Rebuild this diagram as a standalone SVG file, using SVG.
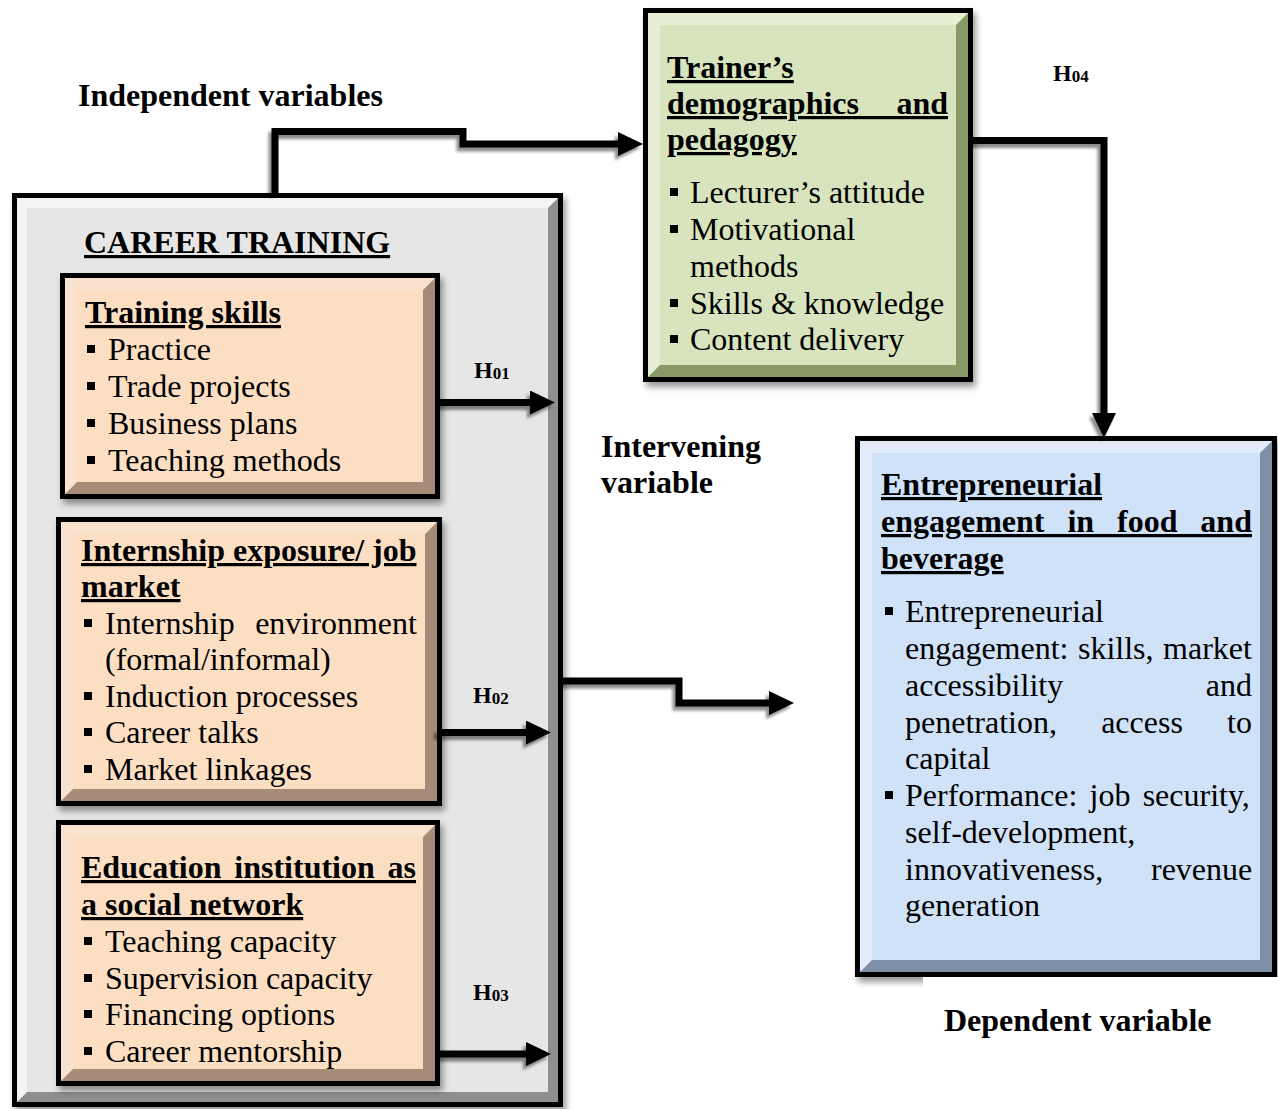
<svg xmlns="http://www.w3.org/2000/svg" width="1278" height="1109" viewBox="0 0 1278 1109">
<defs>
<style>
.t{font-family:"Liberation Serif","Times New Roman",serif;font-size:32px;fill:#000}
.b{font-weight:bold}
.u{text-decoration:underline}
.h{font-family:"Liberation Serif","Times New Roman",serif;font-size:24px;font-weight:bold;fill:#000}
.h tspan{font-size:17px}
.conn{fill:none;stroke:#000;stroke-width:7;stroke-linejoin:miter;marker-end:url(#ah)}
.bl{fill:#000}
</style>
<marker id="ah" markerUnits="userSpaceOnUse" markerWidth="25" markerHeight="24" viewBox="0 0 25 24" refX="1" refY="12" orient="auto">
<path d="M0,0 L25,12 L0,24 z" fill="#000"/>
</marker>
<filter id="bs" x="-10%" y="-10%" width="125%" height="125%">
<feDropShadow dx="3" dy="5" stdDeviation="3" flood-color="#000" flood-opacity="0.4"/>
</filter>
<filter id="cs" x="-10%" y="-10%" width="125%" height="125%">
<feDropShadow dx="-3" dy="4" stdDeviation="1.5" flood-color="#000" flood-opacity="0.45"/>
</filter>
</defs>
<rect width="1278" height="1109" fill="#fff"/>

<g id="label-independent"><text class="t b" x="78" y="106">Independent variables</text></g>

<g id="career-training">
<rect x="12" y="193" width="551" height="914" fill="#000" filter="url(#bs)"/>
<rect x="17" y="198" width="541" height="904" fill="#8f8f8f"/>
<polygon points="17,198 558,198 548,208 27,208 27,1092 17,1102" fill="#f4f4f4"/>
<rect x="27" y="208" width="521" height="884" fill="#e6e6e6"/>
<text class="t b u" x="84" y="253">CAREER TRAINING</text>
</g>

<g id="training-skills">
<rect x="60" y="273" width="380" height="226" fill="#000" filter="url(#bs)"/>
<rect x="65" y="278" width="370" height="216" fill="#a58b78"/>
<polygon points="65,278 435,278 423,290 77,290 77,482 65,494" fill="#f9e3cf"/>
<rect x="77" y="290" width="346" height="192" fill="#fcdfc3"/>
<text class="t b u" x="85" y="323">Training skills</text>
<rect class="bl" x="87" y="345" width="8" height="8"/><text class="t" x="108" y="360">Practice</text>
<rect class="bl" x="87" y="382" width="8" height="8"/><text class="t" x="108" y="397">Trade projects</text>
<rect class="bl" x="87" y="419" width="8" height="8"/><text class="t" x="108" y="434">Business plans</text>
<rect class="bl" x="87" y="456" width="8" height="8"/><text class="t" x="108" y="471">Teaching methods</text>
</g>

<g id="internship">
<rect x="56" y="517" width="386" height="289" fill="#000" filter="url(#bs)"/>
<rect x="61" y="522" width="376" height="279" fill="#a58b78"/>
<polygon points="61,522 437,522 425,534 73,534 73,789 61,801" fill="#f9e3cf"/>
<rect x="73" y="534" width="352" height="255" fill="#fcdfc3"/>
<text class="t b u" x="81" y="561">Internship exposure/ job</text>
<text class="t b u" x="81" y="597">market</text>
<rect class="bl" x="84" y="619" width="8" height="8"/><text class="t" x="105" y="634" word-spacing="12.4">Internship environment</text>
<text class="t" x="105" y="670">(formal/informal)</text>
<rect class="bl" x="84" y="692" width="8" height="8"/><text class="t" x="105" y="707">Induction processes</text>
<rect class="bl" x="84" y="728" width="8" height="8"/><text class="t" x="105" y="743">Career talks</text>
<rect class="bl" x="84" y="765" width="8" height="8"/><text class="t" x="105" y="780">Market linkages</text>
</g>

<g id="education-network">
<rect x="56" y="820" width="384" height="266" fill="#000" filter="url(#bs)"/>
<rect x="61" y="825" width="374" height="256" fill="#a58b78"/>
<polygon points="61,825 435,825 423,837 73,837 73,1069 61,1081" fill="#f9e3cf"/>
<rect x="73" y="837" width="350" height="232" fill="#fcdfc3"/>
<text class="t b u" x="81" y="878" word-spacing="4.8">Education institution as</text>
<text class="t b u" x="81" y="915">a social network</text>
<rect class="bl" x="84" y="937" width="8" height="8"/><text class="t" x="105" y="952">Teaching capacity</text>
<rect class="bl" x="84" y="974" width="8" height="8"/><text class="t" x="105" y="989">Supervision capacity</text>
<rect class="bl" x="84" y="1010" width="8" height="8"/><text class="t" x="105" y="1025">Financing options</text>
<rect class="bl" x="84" y="1047" width="8" height="8"/><text class="t" x="105" y="1062">Career mentorship</text>
</g>

<g id="trainer-demographics">
<rect x="643" y="8" width="330" height="374" fill="#000" filter="url(#bs)"/>
<rect x="648" y="13" width="320" height="364" fill="#8a9a67"/>
<polygon points="648,13 968,13 956,25 660,25 660,365 648,377" fill="#e6eed3"/>
<rect x="660" y="25" width="296" height="340" fill="#d7e4bd"/>
<text class="t b u" x="667" y="78">Trainer’s</text>
<text class="t b u" x="667" y="114" word-spacing="29.4">demographics and</text>
<text class="t b u" x="667" y="150">pedagogy</text>
<rect class="bl" x="670" y="188" width="8" height="8"/><text class="t" x="690" y="203">Lecturer’s attitude</text>
<rect class="bl" x="670" y="225" width="8" height="8"/><text class="t" x="690" y="240">Motivational</text>
<text class="t" x="690" y="277">methods</text>
<rect class="bl" x="670" y="299" width="8" height="8"/><text class="t" x="690" y="314">Skills &amp; knowledge</text>
<rect class="bl" x="670" y="335" width="8" height="8"/><text class="t" x="690" y="350">Content delivery</text>
</g>

<g id="entrepreneurial-engagement">
<rect x="855" y="436" width="422" height="541" fill="#000" filter="url(#bs)"/>
<rect x="860" y="441" width="412" height="531" fill="#7d90a8"/>
<polygon points="860,441 1272,441 1260,453 872,453 872,960 860,972" fill="#e2ecf9"/>
<rect x="872" y="453" width="388" height="507" fill="#d0e2f7"/>
<text class="t b u" x="881" y="495">Entrepreneurial</text>
<text class="t b u" x="881" y="532" word-spacing="14.9">engagement in food and</text>
<text class="t b u" x="881" y="569">beverage</text>
<rect class="bl" x="885" y="607" width="8" height="8"/><text class="t" x="905" y="622">Entrepreneurial</text>
<text class="t" x="905" y="659" word-spacing="1.5">engagement: skills, market</text>
<text class="t" x="905" y="696" word-spacing="134.6">accessibility and</text>
<text class="t" x="905" y="733" word-spacing="36.2">penetration, access to</text>
<text class="t" x="905" y="769">capital</text>
<rect class="bl" x="885" y="791" width="8" height="8"/><text class="t" x="905" y="806" word-spacing="4.2">Performance: job security,</text>
<text class="t" x="905" y="843">self-development,</text>
<text class="t" x="905" y="880" word-spacing="39.8">innovativeness, revenue</text>
<text class="t" x="905" y="916">generation</text>
</g>

<g id="label-dependent">
<rect x="923" y="977" width="355" height="132" fill="#fff"/>
<text class="t b" x="944" y="1031">Dependent variable</text>
</g>

<g id="label-intervening">
<text class="t b" x="601" y="457">Intervening</text>
<text class="t b" x="601" y="493">variable</text>
</g>

<g id="connectors" filter="url(#cs)">
<path class="conn" d="M275,193 V131.5 H463 V144 H619"/>
<path class="conn" d="M973,140.5 H1104 V414"/>
<path class="conn" d="M563,681 H679 V703 H770"/>
<path class="conn" d="M440,402.5 H531"/>
<path class="conn" d="M437,732.5 H527"/>
<path class="conn" d="M440,1054 H527"/>
</g>

<g id="hypotheses">
<text class="h" x="474" y="378">H<tspan dy="1">01</tspan></text>
<text class="h" x="473" y="703">H<tspan dy="1">02</tspan></text>
<text class="h" x="473" y="1000">H<tspan dy="1">03</tspan></text>
<text class="h" x="1053" y="81">H<tspan dy="1">04</tspan></text>
</g>
</svg>
